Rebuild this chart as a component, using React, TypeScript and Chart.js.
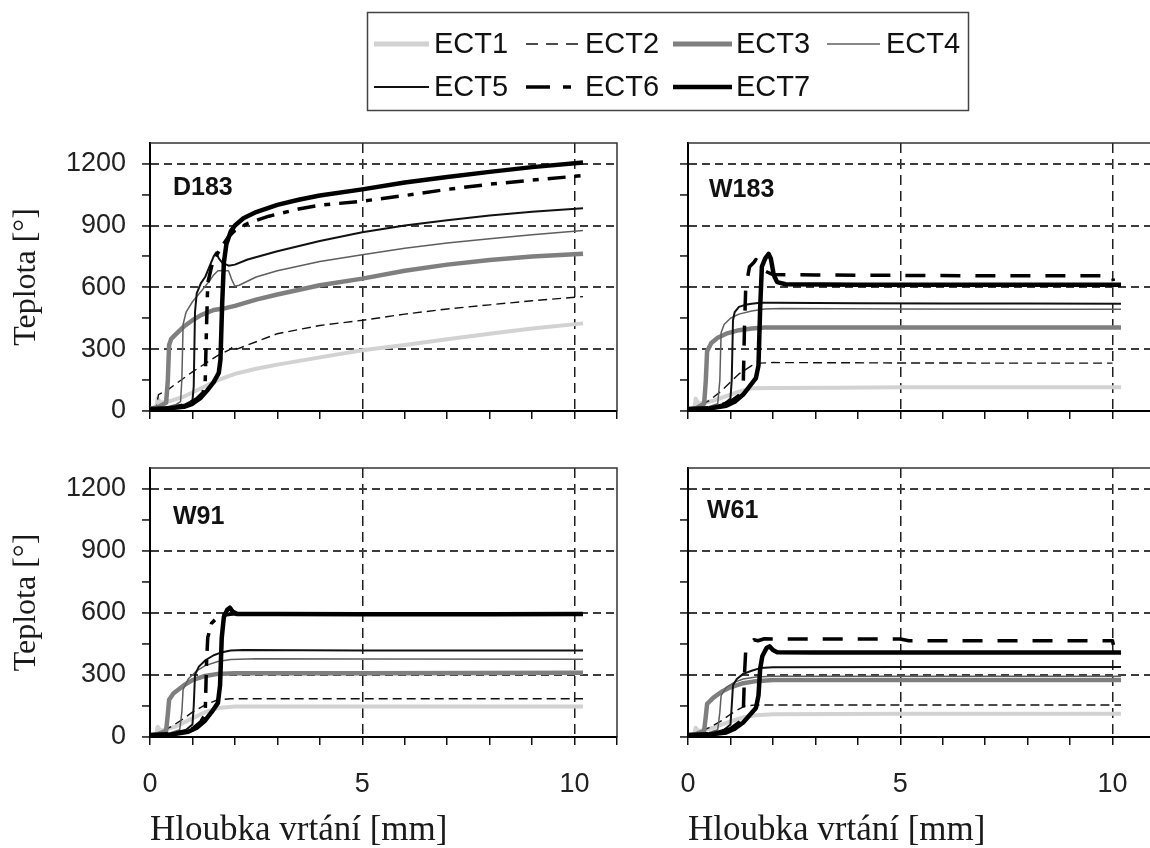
import React, { useEffect, useRef } from 'react';
import { Chart, registerables } from 'chart.js';

Chart.register(...registerables);

// ---------- names / labels ----------
const SERIES_NAMES = ['ECT1', 'ECT2', 'ECT3', 'ECT4', 'ECT5', 'ECT6', 'ECT7'];
const PANEL_NAMES = ['D183', 'W183', 'W91', 'W61'];
const X_AXIS_TITLE = 'Hloubka vrtání [mm]';
const Y_AXIS_TITLE = 'Teplota [°]';
const X_TICKS = [0, 1, 2, 3, 4, 5, 6, 7, 8, 9, 10, 11];
const X_LABELED_TICKS = [0, 5, 10];
const Y_TICKS = [0, 150, 300, 450, 600, 750, 900, 1050, 1200];
const Y_LABELED_TICKS = [0, 300, 600, 900, 1200];
const X_MIN = 0, X_MAX = 11;
const Y_MIN = 0, Y_MAX = 1300;

// ---------- data: [depth mm, temperature °] ----------
const D183_ECT1 = [[0,10],[0.15,15],[0.18,60],[0.25,40],[0.5,50],[0.8,70],[1.0,90],[1.3,120],[1.6,150],[2.0,180],[2.5,205],[3.0,225],[4.0,260],[5.0,295],[6.0,320],[7.0,348],[8.0,375],[9.0,400],[10.2,425]];
const D183_ECT2 = [[0,10],[0.15,20],[0.2,80],[0.4,100],[0.6,130],[0.8,160],[1.0,190],[1.3,230],[1.6,270],[1.9,300],[1.95,315],[2.05,300],[2.3,320],[3.0,375],[4.0,415],[5.0,440],[6.0,470],[7.0,495],[8.0,515],[9.0,535],[10.2,555]];
const D183_ECT3 = [[0,10],[0.2,20],[0.38,40],[0.42,150],[0.45,320],[0.5,350],[0.6,370],[0.8,410],[1.0,440],[1.2,465],[1.5,490],[1.8,500],[2.0,510],[2.5,540],[3.0,565],[4.0,610],[5.0,642],[6.0,680],[7.0,710],[8.0,733],[9.0,750],[10.2,763]];
const D183_ECT4 = [[0,8],[0.3,15],[0.6,30],[0.72,45],[0.75,150],[0.78,420],[0.85,480],[1.0,530],[1.2,580],[1.4,630],[1.5,660],[1.6,680],[1.85,680],[1.92,640],[2.0,605],[2.1,610],[2.5,650],[3.0,680],[4.0,725],[5.0,758],[6.0,790],[7.0,815],[8.0,835],[9.0,855],[10.2,875]];
const D183_ECT5 = [[0,10],[0.4,15],[0.8,30],[1.0,50],[1.03,120],[1.06,480],[1.1,570],[1.2,620],[1.3,650],[1.4,700],[1.5,750],[1.56,770],[1.62,740],[1.7,720],[1.85,705],[2.0,710],[2.3,735],[3.0,775],[4.0,825],[5.0,867],[6.0,900],[7.0,925],[8.0,948],[9.0,966],[10.2,983]];
const D183_ECT6 = [[0,10],[0.5,15],[0.9,35],[1.1,60],[1.25,90],[1.3,140],[1.33,400],[1.36,620],[1.45,700],[1.55,750],[1.7,800],[1.85,845],[2.0,875],[2.3,910],[2.8,945],[3.5,980],[4.0,998],[5.0,1018],[6.0,1045],[7.0,1075],[8.0,1100],[9.0,1120],[10.2,1142]];
const D183_ECT7 = [[0,10],[0.4,12],[0.8,20],[1.0,35],[1.2,65],[1.35,100],[1.5,140],[1.62,185],[1.66,250],[1.7,520],[1.74,720],[1.8,810],[1.9,870],[2.0,900],[2.2,935],[2.5,965],[3.0,1000],[3.5,1025],[4.0,1045],[5.0,1075],[6.0,1108],[7.0,1135],[8.0,1160],[9.0,1183],[10.2,1205]];

const W183_ECT1 = [[0,8],[0.15,12],[0.18,60],[0.25,35],[0.6,50],[1.0,80],[1.3,100],[1.5,110],[2.0,112],[3.5,113],[5.0,115],[7.0,115],[10.2,115]];
const W183_ECT2 = [[0,8],[0.2,20],[0.5,50],[0.8,100],[1.0,140],[1.2,180],[1.5,220],[1.7,232],[2.0,235],[5.0,233],[8.0,232],[10.0,232]];
const W183_ECT3 = [[0,8],[0.2,15],[0.38,35],[0.42,150],[0.45,290],[0.55,330],[0.7,355],[0.9,375],[1.2,392],[1.5,400],[1.8,405],[4.0,405],[6.0,405],[8.0,405],[10.2,405]];
const W183_ECT4 = [[0,8],[0.4,15],[0.7,35],[0.75,150],[0.78,380],[0.85,420],[1.0,450],[1.2,470],[1.5,485],[1.8,495],[2.2,497],[5.0,495],[8.0,493],[10.2,493]];
const W183_ECT5 = [[0,10],[0.5,15],[0.85,35],[1.0,60],[1.03,150],[1.06,440],[1.1,480],[1.2,505],[1.35,515],[1.5,520],[1.7,525],[2.0,525],[4.0,523],[6.0,522],[8.0,521],[10.2,520]];
const W183_ECT6 = [[0,10],[0.6,18],[1.0,45],[1.2,75],[1.3,110],[1.33,400],[1.36,600],[1.45,700],[1.55,720],[1.6,735],[1.7,700],[1.8,680],[2.0,662],[3.0,660],[5.0,658],[7.0,656],[10.0,656],[10.02,630]];
const W183_ECT7 = [[0,10],[0.5,12],[0.9,25],[1.1,45],[1.3,80],[1.45,120],[1.6,160],[1.66,220],[1.7,500],[1.74,700],[1.82,740],[1.9,762],[1.95,740],[2.02,660],[2.1,625],[2.3,615],[4.0,612],[6.0,612],[8.0,612],[10.2,612]];

const W91_ECT1 = [[0,8],[0.15,12],[0.18,50],[0.25,30],[0.6,50],[1.0,90],[1.3,120],[1.6,140],[2.0,147],[5.0,148],[10.2,148]];
const W91_ECT2 = [[0,8],[0.2,18],[0.5,50],[0.8,90],[1.0,120],[1.3,155],[1.6,180],[1.9,185],[5.0,185],[10.2,185]];
const W91_ECT3 = [[0,8],[0.2,15],[0.38,30],[0.42,110],[0.45,180],[0.55,210],[0.8,250],[1.0,275],[1.3,295],[1.6,305],[2.0,308],[5.0,308],[10.2,310]];
const W91_ECT4 = [[0,8],[0.4,15],[0.7,35],[0.75,120],[0.78,230],[0.9,280],[1.1,320],[1.3,345],[1.6,365],[1.9,374],[2.5,378],[5.0,377],[10.2,376]];
const W91_ECT5 = [[0,10],[0.5,15],[0.85,35],[1.0,60],[1.03,150],[1.06,300],[1.15,340],[1.3,370],[1.5,395],[1.7,410],[1.9,418],[2.2,420],[5.0,418],[8.0,418],[10.2,418]];
const W91_ECT6 = [[0,10],[0.6,18],[1.0,40],[1.2,75],[1.3,110],[1.33,350],[1.36,480],[1.45,550],[1.6,580],[1.75,590],[2.0,595],[5.0,595],[10.2,595]];
const W91_ECT7 = [[0,10],[0.5,12],[0.9,25],[1.1,45],[1.3,80],[1.45,120],[1.6,165],[1.65,250],[1.69,480],[1.74,580],[1.82,615],[1.88,625],[1.95,605],[2.05,595],[3.0,594],[5.0,593],[8.0,593],[10.2,594]];

const W61_ECT1 = [[0,8],[0.15,12],[0.18,45],[0.25,28],[0.6,45],[1.0,75],[1.3,95],[1.6,105],[2.0,110],[5.0,112],[10.2,112]];
const W61_ECT2 = [[0,8],[0.2,18],[0.5,45],[0.8,80],[1.0,110],[1.2,135],[1.35,150],[1.6,155],[2.0,155],[5.0,155],[10.2,155]];
const W61_ECT3 = [[0,8],[0.2,15],[0.38,30],[0.42,100],[0.45,160],[0.6,190],[0.8,220],[1.0,240],[1.3,260],[1.6,270],[2.0,275],[5.0,276],[10.2,276]];
const W61_ECT4 = [[0,8],[0.4,15],[0.7,35],[0.75,120],[0.78,200],[0.9,240],[1.1,265],[1.3,280],[1.6,290],[2.0,294],[5.0,294],[10.2,294]];
const W61_ECT5 = [[0,10],[0.5,15],[0.85,35],[1.0,60],[1.03,150],[1.06,250],[1.15,280],[1.3,305],[1.5,320],[1.7,333],[2.0,337],[5.0,338],[10.2,338]];
const W61_ECT6 = [[0,10],[0.6,18],[1.0,40],[1.2,70],[1.3,100],[1.33,300],[1.36,420],[1.45,450],[1.55,470],[1.65,465],[1.8,475],[2.0,474],[3.5,474],[5.0,474],[5.2,465],[7.0,465],[10.0,465],[10.02,445]];
const W61_ECT7 = [[0,10],[0.5,12],[0.9,22],[1.1,40],[1.3,70],[1.45,105],[1.6,140],[1.66,200],[1.7,330],[1.75,390],[1.85,430],[1.92,438],[2.0,420],[2.1,410],[3.0,408],[5.0,408],[8.0,408],[10.2,408]];

const D183_SERIES = [D183_ECT1, D183_ECT2, D183_ECT3, D183_ECT4, D183_ECT5, D183_ECT6, D183_ECT7];
const W183_SERIES = [W183_ECT1, W183_ECT2, W183_ECT3, W183_ECT4, W183_ECT5, W183_ECT6, W183_ECT7];
const W91_SERIES = [W91_ECT1, W91_ECT2, W91_ECT3, W91_ECT4, W91_ECT5, W91_ECT6, W91_ECT7];
const W61_SERIES = [W61_ECT1, W61_ECT2, W61_ECT3, W61_ECT4, W61_ECT5, W61_ECT6, W61_ECT7];

// ---------- styles ----------
const LINE_STYLES = [
  { color: '#d2d2d2', width: 4, dash: [] as number[] },
  { color: '#111111', width: 1.4, dash: [9, 5] },
  { color: '#7f7f7f', width: 4.5, dash: [] as number[] },
  { color: '#5e5e5e', width: 1.5, dash: [] as number[] },
  { color: '#111111', width: 2, dash: [] as number[] },
  { color: '#000000', width: 3.5, dash: [18, 9, 6, 9] },
  { color: '#000000', width: 4.5, dash: [] as number[] },
];
const ECT6_DASH_W = [20, 15];
const LEGEND_STYLES = [
  { color: '#d2d2d2', width: 5, dash: [] as number[] },
  { color: '#111111', width: 1.6, dash: [12, 8] },
  { color: '#7f7f7f', width: 5, dash: [] as number[] },
  { color: '#888888', width: 2, dash: [] as number[] },
  { color: '#111111', width: 2.2, dash: [] as number[] },
  { color: '#000000', width: 3.5, dash: [24, 13, 8, 13] },
  { color: '#000000', width: 4.5, dash: [] as number[] },
];
const SANS = '"Liberation Sans", Arial, sans-serif';
const SERIF = '"Liberation Serif", "Times New Roman", serif';

const framePlugin = {
  id: 'frame',
  afterDatasetsDraw(chart: any) {
    const { ctx, chartArea: a } = chart;
    ctx.save();
    ctx.strokeStyle = '#333';
    ctx.lineWidth = 1.5;
    ctx.setLineDash([]);
    ctx.beginPath();
    ctx.moveTo(a.left, a.top);
    ctx.lineTo(a.right, a.top);
    ctx.lineTo(a.right, a.bottom);
    ctx.stroke();
    ctx.restore();
  },
};

const panelLabelPlugin = {
  id: 'panelLabel',
  afterDraw(chart: any, _args: any, opts: any) {
    if (!opts || !opts.text) return;
    const { ctx, chartArea: a } = chart;
    ctx.save();
    ctx.font = `bold 25px ${SANS}`;
    ctx.fillStyle = '#111';
    ctx.textBaseline = 'alphabetic';
    ctx.textAlign = 'left';
    ctx.fillText(opts.text, a.left + opts.dx, a.top + opts.dy);
    ctx.restore();
  },
};

const legendPlugin = {
  id: 'boxLegend',
  afterDraw(chart: any) {
    const { ctx } = chart;
    const cols = [
      { x1: 14, x2: 69, tx: 74 },
      { x1: 166, x2: 219, tx: 225 },
      { x1: 313, x2: 372, tx: 376 },
      { x1: 467, x2: 520, tx: 526 },
    ];
    const rows = [39, 82];
    ctx.save();
    ctx.strokeStyle = '#444';
    ctx.lineWidth = 1.5;
    ctx.setLineDash([]);
    ctx.strokeRect(7.5, 7.5, 601, 98);
    chart.data.datasets.forEach((ds: any, i: number) => {
      const c = cols[i % 4];
      const y = rows[Math.floor(i / 4)];
      ctx.beginPath();
      ctx.strokeStyle = ds.borderColor;
      ctx.lineWidth = ds.borderWidth;
      ctx.lineCap = 'butt';
      ctx.setLineDash(ds.borderDash || []);
      ctx.moveTo(c.x1, y);
      ctx.lineTo(c.x2, y);
      ctx.stroke();
      ctx.setLineDash([]);
      ctx.font = `29px ${SANS}`;
      ctx.fillStyle = '#111';
      ctx.textBaseline = 'middle';
      ctx.textAlign = 'left';
      ctx.fillText(ds.label, c.tx, y + 1);
    });
    ctx.restore();
  },
};

type PanelSpec = {
  name: string;
  series: number[][][];
  left: number; top: number; width: number; height: number;
  yWidth: number; xHeight: number; padRight: number;
  showX: boolean; showY: boolean;
  dx: number; dy: number;
  ect6Dash: number[];
};

function panelConfig(p: PanelSpec): any {
  return {
    type: 'line',
    data: {
      datasets: p.series.map((pts, i) => ({
        label: SERIES_NAMES[i],
        data: pts.map(([x, y]) => ({ x, y })),
        borderColor: LINE_STYLES[i].color,
        borderWidth: LINE_STYLES[i].width,
        borderDash: i === 5 ? p.ect6Dash : LINE_STYLES[i].dash,
        borderCapStyle: 'butt',
        borderJoinStyle: 'round',
        pointRadius: 0,
        fill: false,
        tension: 0,
        order: SERIES_NAMES.length - 1 - i,
      })),
    },
    options: {
      responsive: false,
      animation: false,
      devicePixelRatio: 1,
      layout: { padding: { top: 13, right: p.padRight, bottom: 0, left: 0 } },
      plugins: {
        legend: { display: false },
        tooltip: { enabled: false },
        panelLabel: { text: p.name, dx: p.dx, dy: p.dy },
      },
      scales: {
        x: {
          type: 'linear',
          position: 'bottom',
          min: X_MIN,
          max: X_MAX,
          afterBuildTicks: (s: any) => { s.ticks = X_TICKS.map((v) => ({ value: v })); },
          afterFit: (s: any) => { s.height = p.xHeight; s.paddingLeft = 0; s.paddingRight = 0; },
          border: { color: '#000', width: 2, dash: [10, 6] },
          grid: {
            color: (c: any) => (c.tick && X_LABELED_TICKS.includes(c.tick.value) && c.tick.value !== 0 ? '#1e1e1e' : 'rgba(0,0,0,0)'),
            lineWidth: 1.5,
            drawTicks: true,
            tickLength: 8,
            tickColor: '#111',
            tickWidth: 1.5,
            tickBorderDash: [],
          },
          ticks: {
            display: p.showX,
            autoSkip: false,
            maxRotation: 0,
            padding: 23,
            color: '#222',
            font: { family: SANS, size: 27 },
            callback: (v: any) => (X_LABELED_TICKS.includes(Number(v)) ? String(v) : ''),
          },
          title: {
            display: p.showX,
            text: X_AXIS_TITLE,
            align: 'start',
            color: '#1a1a1a',
            font: { family: SERIF, size: 35, lineHeight: 1 },
            padding: { top: 0, bottom: 0 },
          },
        },
        y: {
          type: 'linear',
          position: 'left',
          min: Y_MIN,
          max: Y_MAX,
          afterBuildTicks: (s: any) => { s.ticks = Y_TICKS.map((v) => ({ value: v })); },
          afterFit: (s: any) => { s.width = p.yWidth; s.paddingTop = 0; s.paddingBottom = 0; },
          border: { color: '#000', width: 2, dash: [8, 5] },
          grid: {
            color: (c: any) => (c.tick && Y_LABELED_TICKS.includes(c.tick.value) && c.tick.value !== 0 ? '#3c3c3c' : 'rgba(0,0,0,0)'),
            lineWidth: 1.9,
            drawTicks: true,
            tickLength: 8,
            tickColor: '#111',
            tickWidth: 1.5,
            tickBorderDash: [],
          },
          ticks: {
            display: p.showY,
            autoSkip: false,
            padding: 16,
            color: '#222',
            font: { family: SANS, size: 27 },
            callback: (v: any) => (Y_LABELED_TICKS.includes(Number(v)) ? String(v) : ''),
          },
          title: {
            display: p.showY,
            text: Y_AXIS_TITLE,
            align: 'center',
            color: '#1a1a1a',
            font: { family: SERIF, size: 32, lineHeight: 1 },
            padding: { top: 11, bottom: 0 },
          },
        },
      },
    },
    plugins: [framePlugin, panelLabelPlugin],
  };
}

const PANELS: PanelSpec[] = [
  { name: PANEL_NAMES[0], series: D183_SERIES, left: 0, top: 130, width: 640, height: 301, yWidth: 150, xHeight: 20, padRight: 23, showX: false, showY: true, dx: 23, dy: 52, ect6Dash: LINE_STYLES[5].dash },
  { name: PANEL_NAMES[1], series: W183_SERIES, left: 640, top: 130, width: 535, height: 301, yWidth: 48, xHeight: 20, padRight: 20, showX: false, showY: false, dx: 21, dy: 54, ect6Dash: ECT6_DASH_W },
  { name: PANEL_NAMES[2], series: W91_SERIES, left: 0, top: 455, width: 640, height: 393, yWidth: 150, xHeight: 111, padRight: 23, showX: true, showY: true, dx: 23, dy: 56, ect6Dash: LINE_STYLES[5].dash },
  { name: PANEL_NAMES[3], series: W61_SERIES, left: 640, top: 455, width: 535, height: 393, yWidth: 48, xHeight: 111, padRight: 20, showX: true, showY: false, dx: 19, dy: 50, ect6Dash: ECT6_DASH_W },
];

function Panel({ spec }: { spec: PanelSpec }) {
  const ref = useRef<HTMLCanvasElement>(null);
  useEffect(() => {
    const chart = new Chart(ref.current as HTMLCanvasElement, panelConfig(spec));
    return () => chart.destroy();
  }, [spec]);
  return (
    <canvas
      ref={ref}
      width={spec.width}
      height={spec.height}
      style={{ position: 'absolute', left: spec.left, top: spec.top, width: spec.width, height: spec.height }}
    />
  );
}

function Legend() {
  const ref = useRef<HTMLCanvasElement>(null);
  useEffect(() => {
    const chart = new Chart(ref.current as HTMLCanvasElement, {
      type: 'line',
      data: {
        datasets: SERIES_NAMES.map((name, i) => ({
          label: name,
          data: [],
          borderColor: LEGEND_STYLES[i].color,
          borderWidth: LEGEND_STYLES[i].width,
          borderDash: LEGEND_STYLES[i].dash,
        })),
      },
      options: {
        responsive: false,
        animation: false,
        devicePixelRatio: 1,
        plugins: { legend: { display: false }, tooltip: { enabled: false } },
        scales: { x: { display: false }, y: { display: false } },
      },
      plugins: [legendPlugin],
    } as any);
    return () => chart.destroy();
  }, []);
  return (
    <canvas
      ref={ref}
      width={620}
      height={115}
      style={{ position: 'absolute', left: 360, top: 5, width: 620, height: 115 }}
    />
  );
}

export default function App() {
  return (
    <div style={{ position: 'absolute', left: 0, top: 0, width: 1150, height: 848, overflow: 'hidden', background: '#fff' }}>
      <Legend />
      {PANELS.map((p) => (
        <Panel key={p.name} spec={p} />
      ))}
    </div>
  );
}
